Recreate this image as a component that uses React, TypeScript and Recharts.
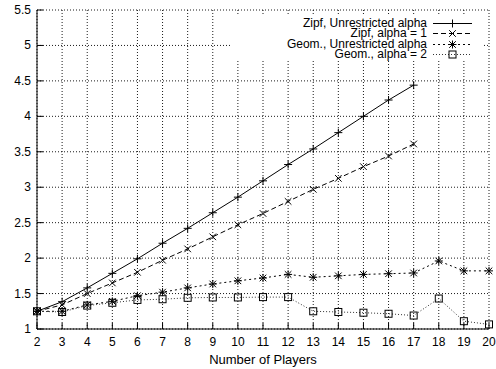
import React from 'react';
import { LineChart, Line, XAxis, YAxis, CartesianGrid, Legend } from 'recharts';

const players = [2, 3, 4, 5, 6, 7, 8, 9, 10, 11, 12, 13, 14, 15, 16, 17, 18, 19, 20];
const yTicks = [1, 1.5, 2, 2.5, 3, 3.5, 4, 4.5, 5, 5.5];

// values for players 2..17
const zipfUnrestricted = [1.25, 1.385, 1.58, 1.785, 1.99, 2.21, 2.42, 2.64, 2.86, 3.09, 3.32, 3.54, 3.77, 4.0, 4.23, 4.44];
const zipfAlpha1 = [1.25, 1.34, 1.5, 1.65, 1.8, 1.97, 2.13, 2.3, 2.47, 2.63, 2.8, 2.97, 3.125, 3.29, 3.44, 3.61];
// values for players 2..20
const geomUnrestricted = [1.25, 1.25, 1.34, 1.39, 1.47, 1.52, 1.58, 1.635, 1.68, 1.72, 1.77, 1.73, 1.75, 1.77, 1.78, 1.79, 1.96, 1.82, 1.82];
const geomAlpha2 = [1.25, 1.24, 1.33, 1.37, 1.41, 1.42, 1.44, 1.445, 1.445, 1.45, 1.45, 1.25, 1.24, 1.23, 1.215, 1.19, 1.43, 1.11, 1.065];

const data = players.map((p, i) => ({
  players: p,
  zipfU: zipfUnrestricted[i] ?? null,
  zipfA1: zipfAlpha1[i] ?? null,
  geomU: geomUnrestricted[i] ?? null,
  geomA2: geomAlpha2[i] ?? null,
}));

const FONT = '"Liberation Sans", Arial, Helvetica, sans-serif';

type Kind = 'plus' | 'cross' | 'star' | 'square';

const series: { key: string; name: string; kind: Kind; dash?: string; stroke: string }[] = [
  { key: 'zipfU', name: 'Zipf, Unrestricted alpha', kind: 'plus', stroke: '#000' },
  { key: 'zipfA1', name: 'Zipf, alpha = 1', kind: 'cross', dash: '5 3', stroke: '#000' },
  { key: 'geomU', name: 'Geom., Unrestricted alpha', kind: 'star', dash: '2 3', stroke: '#000' },
  { key: 'geomA2', name: 'Geom., alpha = 2', kind: 'square', dash: '1 2', stroke: '#333' },
];

const Marker = ({ kind, cx, cy }: { kind: Kind; cx: number; cy: number }) => {
  const s = 4;
  const c = 3.3;
  const plus = (
    <>
      <line x1={cx - s} x2={cx + s} y1={cy} y2={cy} />
      <line x1={cx} x2={cx} y1={cy - s} y2={cy + s} />
    </>
  );
  const cross = (
    <>
      <line x1={cx - c} x2={cx + c} y1={cy - c} y2={cy + c} />
      <line x1={cx - c} x2={cx + c} y1={cy + c} y2={cy - c} />
    </>
  );
  return (
    <g stroke="#000" strokeWidth={1} fill="none">
      {kind === 'plus' && plus}
      {kind === 'cross' && cross}
      {kind === 'star' && (
        <>
          {plus}
          {cross}
        </>
      )}
      {kind === 'square' && <rect x={cx - 3.5} y={cy - 3.5} width={7} height={7} />}
    </g>
  );
};

const makeDot = (kind: Kind) => (props: any) => {
  const { cx, cy, index, value } = props;
  if (cx == null || cy == null || value == null) return <g key={`d-${kind}-${index}`} />;
  return (
    <g key={`d-${kind}-${index}`}>
      <Marker kind={kind} cx={cx} cy={cy} />
    </g>
  );
};

const BottomTick = (props: any) => {
  const { x, y, payload } = props;
  return (
    <g>
      <line x1={x} x2={x} y1={y} y2={y - 6} stroke="#000" />
      <text x={x} y={y + 17} textAnchor="middle" fontSize={12} fontFamily={FONT} fill="#000">
        {payload.value}
      </text>
    </g>
  );
};

const TopTick = (props: any) => {
  const { x, y } = props;
  return <line x1={x} x2={x} y1={y} y2={y + 6} stroke="#000" />;
};

const LeftTick = (props: any) => {
  const { x, y, payload } = props;
  return (
    <g>
      <line x1={x} x2={x + 6} y1={y} y2={y} stroke="#000" />
      <text x={x - 6} y={y + 4} textAnchor="end" fontSize={12} fontFamily={FONT} fill="#000">
        {payload.value}
      </text>
    </g>
  );
};

const RightTick = (props: any) => {
  const { x, y } = props;
  return <line x1={x} x2={x - 6} y1={y} y2={y} stroke="#000" />;
};

const renderLegend = () => (
  <div style={{ background: '#fff', paddingTop: 2, fontFamily: FONT, fontSize: 12, color: '#000' }}>
    {series.map((s) => (
      <div
        key={s.key}
        style={{ display: 'flex', justifyContent: 'flex-end', alignItems: 'center', height: 10.3, lineHeight: '10.3px' }}
      >
        <span style={{ whiteSpace: 'nowrap', display: 'inline-block', height: 10.3, overflow: 'visible' }}>
          {s.name}
        </span>
        <svg width={55} height={10} style={{ display: 'block', flex: 'none' }}>
          <line x1={6} x2={45} y1={5.5} y2={5.5} stroke={s.stroke} strokeDasharray={s.dash} />
          <Marker kind={s.kind} cx={25.5} cy={5.5} />
        </svg>
      </div>
    ))}
  </div>
);

export default function App() {
  return (
    <div style={{ position: 'absolute', left: 0, top: 0, background: '#fff', fontFamily: FONT }}>
      <LineChart width={496} height={369} data={data} margin={{ top: 10, right: 7, bottom: 0, left: 0 }}>
        <CartesianGrid stroke="#000" strokeDasharray="1 2" strokeWidth={0.9} />
        <XAxis
          dataKey="players"
          type="number"
          domain={[2, 20]}
          ticks={players}
          interval={0}
          height={40}
          tickSize={0}
          tickMargin={0}
          tickLine={false}
          axisLine={{ stroke: '#000' }}
          tick={<BottomTick />}
          label={{ value: 'Number of Players', position: 'insideBottom', offset: 5, fill: '#000', fontSize: 13, fontFamily: FONT }}
        />
        <XAxis
          xAxisId="top"
          orientation="top"
          dataKey="players"
          type="number"
          domain={[2, 20]}
          ticks={players}
          interval={0}
          height={0}
          tickSize={0}
          tickMargin={0}
          tickLine={false}
          axisLine={{ stroke: '#000' }}
          tick={<TopTick />}
        />
        <YAxis
          type="number"
          domain={[1, 5.5]}
          ticks={yTicks}
          interval={0}
          width={37}
          tickSize={0}
          tickMargin={0}
          tickLine={false}
          axisLine={{ stroke: '#000' }}
          tick={<LeftTick />}
        />
        <YAxis
          yAxisId="right"
          orientation="right"
          type="number"
          domain={[1, 5.5]}
          ticks={yTicks}
          interval={0}
          width={0}
          tickSize={0}
          tickMargin={0}
          tickLine={false}
          axisLine={{ stroke: '#000' }}
          tick={<RightTick />}
        />
        {series.map((s) => (
          <Line
            key={s.key}
            dataKey={s.key}
            name={s.name}
            type="linear"
            stroke={s.stroke}
            strokeWidth={1}
            strokeDasharray={s.dash}
            dot={makeDot(s.kind)}
            activeDot={false}
            isAnimationActive={false}
          />
        ))}
        <Legend
          layout="horizontal"
          verticalAlign="middle"
          align="center"
          content={renderLegend}
          wrapperStyle={{ left: 232, top: 16, width: 250, height: 52, margin: 0 }}
        />
      </LineChart>
    </div>
  );
}
